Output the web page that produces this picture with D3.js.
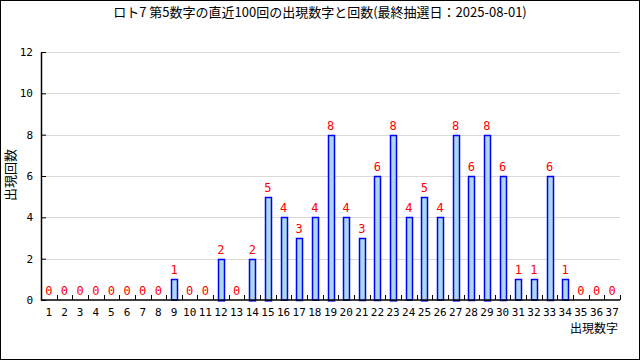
<!DOCTYPE html>
<html>
<head>
<meta charset="utf-8">
<script src="https://cdn.jsdelivr.net/npm/d3@7"></script>
<style>
	body { margin: 0; background: #fff; }
	svg { display: block; }
	text { font-family: "DejaVu Sans Mono", "Noto Sans CJK JP", monospace; }
	.jp { font-family: "Noto Sans CJK JP", sans-serif; }
</style>
</head>
<body>
<svg id="chart" width="640" height="360"></svg>
<script>
// chart data
const title = 'ロト7 第5数字の直近100回の出現数字と回数(最終抽選日：2025-08-01)';
const numbers = d3.range(1, 38).map(String);
const counts = [0, 0, 0, 0, 0, 0, 0, 0, 1, 0, 0, 2, 0, 2, 5, 4, 3, 4, 8, 4, 3, 6, 8, 4, 5, 4, 8, 6, 8, 6, 1, 1, 6, 1, 0, 0, 0];
const yTicks = [0, 2, 4, 6, 8, 10, 12];

const margin = { top: 52, left: 41, bottom: 60, right: 20 };
const width = 640, height = 360;

const svg = d3.select('#chart');

// outer frame
svg.append('rect')
	.attr('x', 0.5).attr('y', 0.5)
	.attr('width', width - 1).attr('height', height - 1)
	.style('fill', '#fff').style('stroke', '#000');

const x = d3.scaleBand()
	.domain(numbers)
	.range([margin.left, width - margin.right]);
const y = d3.scaleLinear()
	.domain([0, 12])
	.range([height - margin.bottom, margin.top]);

// grid
svg.append('g').selectAll('line')
	.data(yTicks.filter(d => d > 0))
	.join('line')
	.attr('x1', margin.left).attr('x2', width - margin.right)
	.attr('y1', d => Math.round(y(d)) + 0.5).attr('y2', d => Math.round(y(d)) + 0.5)
	.style('stroke', '#d9d9d9');

// bars
const barW = 6;
svg.append('g').selectAll('rect')
	.data(counts)
	.join('rect')
	.attr('x', (d, i) => Math.round(x(numbers[i]) + x.bandwidth() / 2 - barW / 2) + 0.5)
	.attr('y', d => Math.round(y(d)) + 0.5)
	.attr('width', barW)
	.attr('height', d => y(0) - y(d))
	.style('fill', 'lightblue')
	.style('stroke', 'blue')
	.style('stroke-width', 1.5);

// value labels
svg.append('g').selectAll('text')
	.data(counts)
	.join('text')
	.attr('x', (d, i) => x(numbers[i]) + x.bandwidth() / 2)
	.attr('y', d => y(d) - 5)
	.attr('text-anchor', 'middle')
	.style('fill', 'red')
	.style('font-size', '12px')
	.text(d => d);

// axes
const xAxis = svg.append('g')
	.attr('transform', 'translate(0,' + y(0) + ')');
xAxis.append('line')
	.attr('x1', margin.left).attr('x2', width - margin.right)
	.style('stroke', '#000').style('stroke-width', 1.5);
xAxis.selectAll('.tick')
	.data(numbers.slice(1).concat(['end']))
	.join('line')
	.attr('x1', (d, i) => Math.round(x.range()[0] + (i + 1) * x.step()) + 0.5)
	.attr('x2', (d, i) => Math.round(x.range()[0] + (i + 1) * x.step()) + 0.5)
	.attr('y1', 0).attr('y2', -5)
	.style('stroke', '#000');
xAxis.selectAll('.lbl')
	.data(numbers)
	.join('text')
	.attr('x', d => x(d) + x.bandwidth() / 2)
	.attr('y', 16)
	.attr('text-anchor', 'middle')
	.style('font-size', '11px')
	.text(d => d);

const yAxis = svg.append('g')
	.attr('transform', 'translate(' + margin.left + ',0)')
	.call(d3.axisRight(y).tickValues(yTicks).tickSize(5).tickSizeOuter(0));
yAxis.select('.domain').style('stroke-width', 1.5);
yAxis.selectAll('.tick text')
	.attr('x', -8)
	.attr('text-anchor', 'end')
	.style('font-size', '11px')
	.style('font-family', '"DejaVu Sans Mono", monospace');

// titles
svg.append('text')
	.attr('class', 'jp')
	.attr('x', width / 2).attr('y', 17)
	.attr('text-anchor', 'middle')
	.style('font-size', '13px')
	.text(title);

svg.append('text')
	.attr('class', 'jp')
	.attr('transform', 'translate(15,' + 175 + ') rotate(-90)')
	.attr('text-anchor', 'middle')
	.style('font-size', '13px')
	.text('出現回数');

svg.append('text')
	.attr('class', 'jp')
	.attr('x', 618).attr('y', 333)
	.attr('text-anchor', 'end')
	.style('font-size', '12px')
	.text('出現数字');
</script>
</body>
</html>
